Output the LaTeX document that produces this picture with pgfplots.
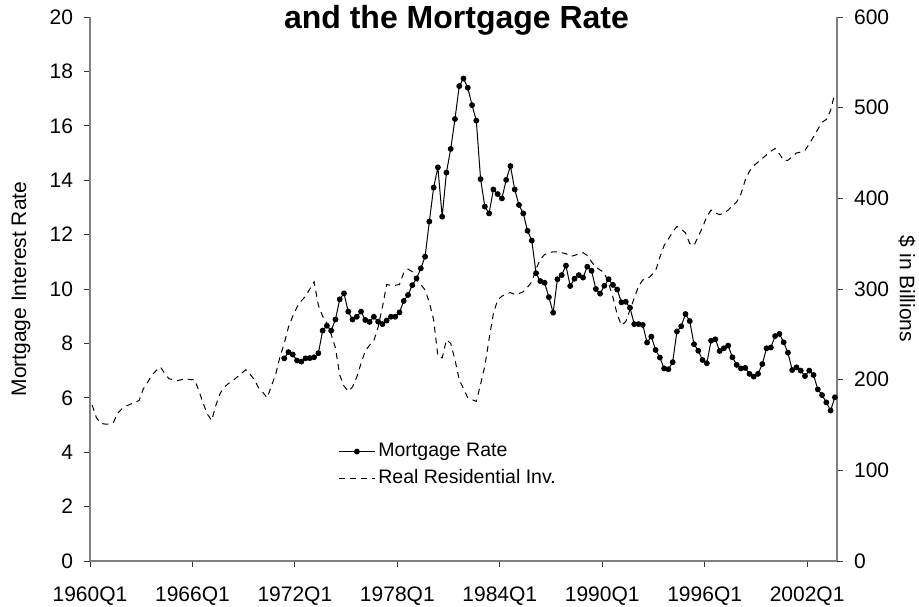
\documentclass[border=0pt]{standalone}
\usepackage{fontspec}
\setmainfont{Liberation Sans}
\usepackage{pgfplots}
\usepackage{pgfplotstable}
\pgfplotsset{compat=1.18}
\pgfplotstableread{
q v
45 7.45
46 7.68
47 7.59
48 7.37
49 7.33
50 7.45
51 7.46
52 7.49
53 7.64
54 8.47
55 8.65
56 8.47
57 8.88
58 9.62
59 9.84
60 9.17
61 8.88
62 8.98
63 9.17
64 8.86
65 8.79
66 8.98
67 8.80
68 8.71
69 8.84
70 8.98
71 8.98
72 9.14
73 9.56
74 9.78
75 10.14
76 10.39
77 10.76
78 11.19
79 12.48
80 13.73
81 14.47
82 12.66
83 14.28
84 15.15
85 16.25
86 17.46
87 17.74
88 17.40
89 16.76
90 16.19
91 14.04
92 13.03
93 12.78
94 13.66
95 13.49
96 13.33
97 14.01
98 14.52
99 13.66
100 13.09
101 12.78
102 12.14
103 11.78
104 10.58
105 10.29
106 10.23
107 9.70
108 9.13
109 10.36
110 10.51
111 10.86
112 10.11
113 10.38
114 10.51
115 10.42
116 10.82
117 10.67
118 10.00
119 9.83
120 10.12
121 10.36
122 10.15
123 9.98
124 9.51
125 9.53
126 9.31
127 8.71
128 8.71
129 8.68
130 8.03
131 8.25
132 7.76
133 7.48
134 7.08
135 7.05
136 7.31
137 8.44
138 8.63
139 9.08
140 8.82
141 7.97
142 7.73
143 7.39
144 7.27
145 8.10
146 8.15
147 7.72
148 7.82
149 7.92
150 7.49
151 7.21
152 7.08
153 7.10
154 6.88
155 6.78
156 6.88
157 7.24
158 7.82
159 7.85
160 8.27
161 8.35
162 8.04
163 7.66
164 7.02
165 7.12
166 7.00
167 6.80
168 7.00
169 6.84
170 6.31
171 6.10
172 5.83
173 5.53
174 6.02
}\mortgage
\pgfplotstableread{
q v
0 172
1 158
2 152
3 151
4 151
5 153
6 163
7 168
8 171
9 173
10 175
11 177
12 190
13 197
14 205
15 210
16 214
17 207
18 201
19 200
20 199
21 200
22 201
23 200
24 200
25 188
26 174
27 162
28 155
29 172
30 185
31 192
32 196
33 199
34 203
35 207
36 211
37 206
38 200
39 191
40 186
41 180
42 193
43 206
44 225
45 240
46 258
47 270
48 280
49 287
50 292
51 300
52 308
53 282
54 270
55 262
56 250
57 235
58 205
59 193
60 187
61 192
62 203
63 218
64 232
65 238
66 243
67 258
68 280
69 305
70 304
71 304
72 305
73 318
74 322
75 319
76 310
77 305
78 299
79 285
80 266
81 226
82 224
83 244
84 240
85 222
86 200
87 190
88 180
89 178
90 176
91 195
92 215
93 245
94 273
95 288
96 292
97 295
98 296
99 294
100 295
101 297
102 302
103 308
104 322
105 333
106 338
107 340
108 341
109 341
110 340
111 339
112 336
113 337
114 339
115 340
116 337
117 330
118 324
119 321
120 318
121 306
122 291
123 272
124 260
125 264
126 277
127 290
128 303
129 310
130 311
131 315
132 320
133 335
134 348
135 355
136 363
137 369
138 366
139 362
140 350
141 348
142 358
143 368
144 380
145 387
146 384
147 382
148 384
149 387
150 392
151 396
152 405
153 420
154 430
155 436
156 440
157 444
158 448
159 452
160 455
161 449
162 442
163 442
164 446
165 450
166 451
167 453
168 460
169 468
170 476
171 484
172 487
173 497
174 516
}\resinv
\begin{document}
\begin{tikzpicture}
\path[use as bounding box] (0,0) rectangle (459.5pt,303pt);
\pgfplotsset{
  common/.style={
    scale only axis, width=373.5pt, height=272pt,
    at={(45pt,22.5pt)}, anchor=south west,
    xmin=-0.5, xmax=174.5,
    tick align=outside, major tick length=3pt,
    axis line style={black!50, line width=0.6pt},
    tick style={black!80, line width=0.5pt},
    /pgf/number format/assume math mode=true,
    tick label style={font=\fontsize{10.5}{12}\selectfont},
    label style={font=\fontsize{10.5}{12}\selectfont},
  }
}
\begin{axis}[common,
  axis x line=none, axis y line*=right,
  ymin=0, ymax=600, ytick={0,100,...,600},
  yticklabel style={xshift=2pt},
  ylabel={\$ in Billions},
  ylabel style={at={(axis description cs:1.0937,0.5)}, anchor=center, rotate=180},
]
\addplot[black, line width=0.5pt, dash pattern=on 3pt off 2.5pt] table[x=q,y=v] {\resinv};
\end{axis}
\begin{axis}[common,
  axis x line*=bottom, axis y line*=left,
  ymin=0, ymax=20, ytick={0,2,...,20},
  yticklabel style={xshift=-2pt},
  xtick={-0.5,23.5,...,167.5},
  xticklabels={1960Q1,1966Q1,1972Q1,1978Q1,1984Q1,1990Q1,1996Q1,2002Q1},
  xticklabel style={yshift=-6.5pt},
  ylabel={Mortgage Interest Rate},
  ylabel style={at={(axis description cs:-0.0924,0.5)}, anchor=center},
  legend style={draw=none, fill=none, at={(0.332,0.2225)}, anchor=north west,
    font=\fontsize{9.75}{11}\selectfont, inner sep=0pt, row sep=2pt,
    nodes={inner sep=1.5pt}},
  legend cell align=left,
  legend image code/.code={\draw[mark repeat=2,mark phase=2,#1] plot coordinates {(0pt,0pt) (9pt,0pt) (18pt,0pt)};},
]
\addplot[black, line width=0.5pt, mark=*, mark size=1.2pt] table[x=q,y=v] {\mortgage};
\addlegendentry{Mortgage Rate}
\addlegendimage{black, line width=0.5pt, dash pattern=on 3pt off 2.5pt}
\addlegendentry{Real Residential Inv.}
\end{axis}
\node[font=\bfseries\fontsize{16}{19}\selectfont, anchor=base] at (228.25pt,288.5pt) {and the Mortgage Rate};
\end{tikzpicture}
\end{document}
